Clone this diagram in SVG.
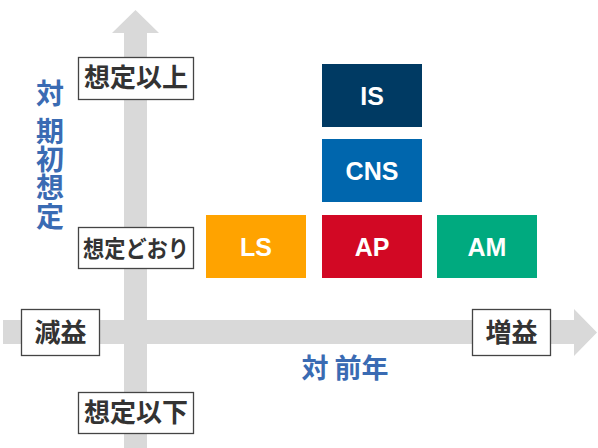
<svg xmlns="http://www.w3.org/2000/svg" width="598" height="448" viewBox="0 0 598 448">
<style>
.lbl rect{fill:#fff;stroke:#444;stroke-width:1.3}
.lbl text{font-family:"Noto Sans CJK JP","Noto Sans",sans-serif;font-weight:bold;font-size:26px;fill:#333;text-anchor:middle}
.seg text{font-family:"Liberation Sans",Arial,sans-serif;font-weight:bold;font-size:25px;fill:#fff;text-anchor:middle}
.ax{font-family:"Noto Sans CJK JP","Noto Sans",sans-serif;font-weight:bold;font-size:28px;fill:#3A6BB3;text-anchor:middle}
.arr{fill:#D9D9D9}
</style>
<rect width="598" height="448" fill="#fff"/>
<g id="connectors">
<polygon class="arr" points="124,448 124,33 112,33 135.5,10 159,33 147,33 147,448"/>
<polygon class="arr" points="3,320 574,320 574,309 597,332.5 574,356 574,344 3,344"/>
</g>
<g id="axis-y-title">
<text class="ax" x="50" y="104">対<tspan x="50" y="142">期</tspan><tspan x="50" y="170">初</tspan><tspan x="50" y="198">想</tspan><tspan x="50" y="227">定</tspan></text>
</g>
<g id="axis-x-title"><text class="ax" x="345" y="378" style="font-size:27px">対 前年</text></g>
<g id="above" class="lbl"><rect x="78.5" y="57.5" width="115" height="42"/><text x="136" y="87">想定以上</text></g>
<g id="asplanned" class="lbl"><rect x="78.5" y="227.5" width="115" height="41"/><text x="136" y="257" textLength="106" lengthAdjust="spacingAndGlyphs" style="font-size:23px">想定どおり</text></g>
<g id="below" class="lbl"><rect x="78.5" y="392.5" width="115" height="41"/><text x="136" y="422">想定以下</text></g>
<g id="decrease" class="lbl"><rect x="21.5" y="309.5" width="78" height="46"/><text x="60.5" y="342">減益</text></g>
<g id="increase" class="lbl"><rect x="472.5" y="309.5" width="78" height="46"/><text x="511.5" y="342">増益</text></g>
<g id="IS" class="seg"><rect x="322" y="64" width="100" height="63" fill="#003A63"/><text x="372" y="104.5">IS</text></g>
<g id="CNS" class="seg"><rect x="322" y="139" width="100" height="63" fill="#0066AD"/><text x="372" y="179.5">CNS</text></g>
<g id="LS" class="seg"><rect x="206" y="215" width="100" height="63" fill="#FFA300"/><text x="256" y="255.5">LS</text></g>
<g id="AP" class="seg"><rect x="322" y="215" width="100" height="63" fill="#D20824"/><text x="372" y="255.5">AP</text></g>
<g id="AM" class="seg"><rect x="437" y="215" width="100" height="63" fill="#00AA7F"/><text x="487" y="255.5">AM</text></g>
</svg>
